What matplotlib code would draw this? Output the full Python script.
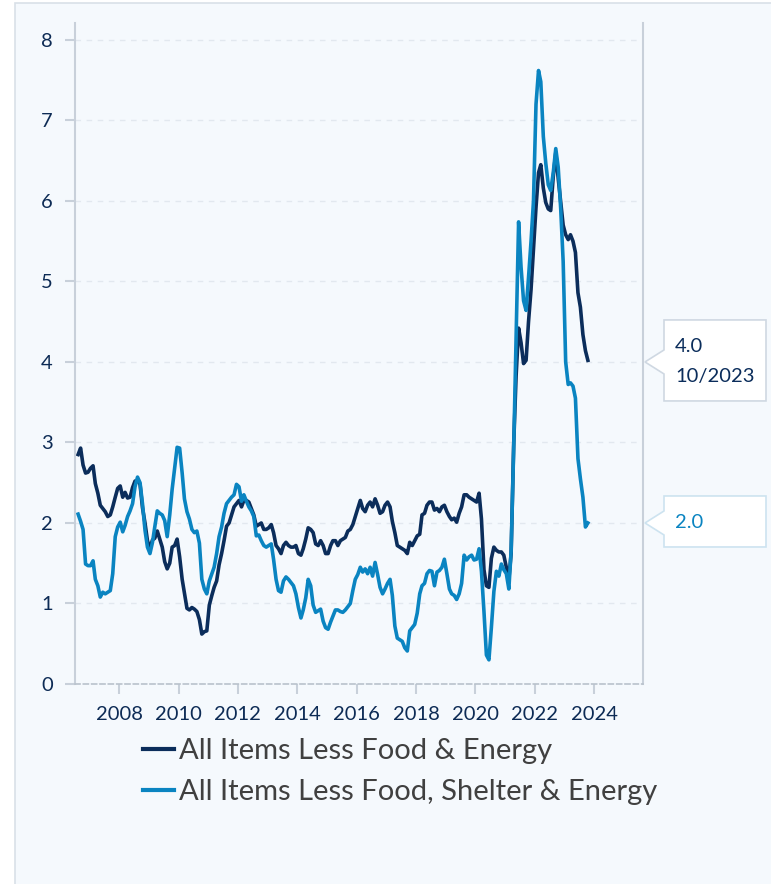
import matplotlib
matplotlib.use("Agg")
import matplotlib.pyplot as plt
import matplotlib.dates as mdates
import matplotlib.transforms as mtransforms
from matplotlib.patches import Polygon, Rectangle
import pandas as pd

plt.rcParams["font.family"] = ["Lato", "DejaVu Sans"]

# monthly observations, Aug 2006 .. Oct 2023 (year-over-year % change)
months = pd.date_range("2006-08-01", "2023-10-01", freq="MS") + pd.Timedelta(days=14)

core = [
    2.85, 2.93, 2.72, 2.62, 2.63,                                            # 2006
    2.68, 2.71, 2.49, 2.37, 2.22, 2.18, 2.14, 2.08, 2.10, 2.20, 2.32, 2.43,  # 2007
    2.46, 2.32, 2.38, 2.31, 2.32, 2.44, 2.52, 2.53, 2.48, 2.19, 2.00, 1.78,  # 2008
    1.68, 1.79, 1.81, 1.90, 1.80, 1.70, 1.52, 1.43, 1.50, 1.70, 1.72, 1.80,  # 2009
    1.58, 1.30, 1.13, 0.94, 0.92, 0.95, 0.93, 0.90, 0.80, 0.62, 0.65, 0.66,  # 2010
    0.98, 1.10, 1.20, 1.28, 1.48, 1.62, 1.78, 1.96, 2.00, 2.10, 2.20, 2.24,  # 2011
    2.28, 2.20, 2.28, 2.28, 2.26, 2.18, 2.10, 1.96, 1.98, 2.00, 1.92, 1.92,  # 2012
    1.94, 1.98, 1.88, 1.72, 1.68, 1.62, 1.72, 1.76, 1.72, 1.70, 1.70, 1.72,  # 2013
    1.62, 1.60, 1.68, 1.80, 1.94, 1.92, 1.88, 1.74, 1.72, 1.78, 1.72, 1.62,  # 2014
    1.62, 1.72, 1.78, 1.78, 1.72, 1.78, 1.80, 1.82, 1.90, 1.92, 1.98, 2.08,  # 2015
    2.18, 2.28, 2.18, 2.14, 2.22, 2.26, 2.20, 2.30, 2.22, 2.12, 2.14, 2.22,  # 2016
    2.26, 2.20, 2.02, 1.88, 1.72, 1.70, 1.68, 1.66, 1.62, 1.76, 1.72, 1.78,  # 2017
    1.84, 1.86, 2.10, 2.12, 2.22, 2.26, 2.26, 2.16, 2.18, 2.14, 2.20, 2.22,  # 2018
    2.14, 2.08, 2.04, 2.06, 2.01, 2.12, 2.20, 2.35, 2.35, 2.32, 2.30, 2.28,  # 2019
    2.26, 2.37, 2.05, 1.42, 1.22, 1.20, 1.56, 1.70, 1.66, 1.64, 1.64, 1.60,  # 2020
    1.45, 1.30, 1.62, 2.96, 3.82, 4.42, 4.24, 3.98, 4.02, 4.50, 4.90, 5.40,  # 2021
    5.92, 6.35, 6.45, 6.16, 5.98, 5.90, 5.88, 6.30, 6.60, 6.28, 5.98, 5.70,  # 2022
    5.58, 5.52, 5.58, 5.50, 5.36, 4.86, 4.68, 4.34, 4.14, 4.02,              # 2023
]

core_ex_shelter = [
    2.11, 2.02, 1.92, 1.49, 1.47,                                            # 2006
    1.47, 1.53, 1.30, 1.22, 1.08, 1.14, 1.12, 1.14, 1.16, 1.37, 1.83, 1.95,  # 2007
    2.01, 1.89, 1.97, 2.08, 2.15, 2.24, 2.45, 2.57, 2.50, 2.24, 1.91, 1.70,  # 2008
    1.62, 1.76, 1.95, 2.15, 2.12, 2.10, 2.03, 1.83, 2.10, 2.42, 2.68, 2.94,  # 2009
    2.93, 2.62, 2.30, 2.14, 2.05, 1.92, 1.88, 1.90, 1.75, 1.30, 1.18, 1.12,  # 2010
    1.28, 1.37, 1.45, 1.62, 1.83, 1.95, 2.12, 2.24, 2.28, 2.32, 2.35, 2.48,  # 2011
    2.45, 2.27, 2.35, 2.27, 2.20, 2.15, 2.08, 1.84, 1.85, 1.78, 1.72, 1.70,  # 2012
    1.72, 1.74, 1.55, 1.30, 1.16, 1.14, 1.28, 1.33, 1.30, 1.26, 1.22, 1.12,  # 2013
    0.95, 0.82, 0.92, 1.07, 1.30, 1.22, 0.98, 0.89, 0.91, 0.93, 0.78, 0.70,  # 2014
    0.68, 0.77, 0.84, 0.92, 0.92, 0.90, 0.89, 0.92, 0.96, 1.00, 1.16, 1.30,  # 2015
    1.36, 1.45, 1.39, 1.43, 1.37, 1.45, 1.34, 1.51, 1.36, 1.20, 1.12, 1.18,  # 2016
    1.25, 1.30, 1.10, 0.72, 0.57, 0.55, 0.53, 0.45, 0.41, 0.66, 0.70, 0.74,  # 2017
    0.88, 1.12, 1.22, 1.25, 1.37, 1.41, 1.40, 1.22, 1.39, 1.41, 1.45, 1.55,  # 2018
    1.37, 1.18, 1.12, 1.10, 1.05, 1.12, 1.25, 1.60, 1.54, 1.58, 1.60, 1.54,  # 2019
    1.55, 1.68, 1.40, 0.90, 0.36, 0.30, 0.70, 1.15, 1.40, 1.34, 1.49, 1.42,  # 2020
    1.37, 1.18, 1.65, 2.90, 4.30, 5.74, 5.18, 4.76, 4.64, 5.05, 5.50, 6.00,  # 2021
    7.20, 7.62, 7.48, 6.80, 6.47, 6.20, 6.13, 6.35, 6.65, 6.42, 5.90, 5.25,  # 2022
    4.00, 3.72, 3.74, 3.70, 3.55, 2.80, 2.55, 2.32, 1.95, 2.00,              # 2023
]

labels = ["All Items Less Food & Energy", "All Items Less Food, Shelter & Energy"]
colors = ["#0b2d5b", "#0a84c1"]
y_ticks = [0, 1, 2, 3, 4, 5, 6, 7, 8]

W, H = 771, 884
fig = plt.figure(figsize=(W / 100, H / 100), dpi=100, facecolor="white")
fig.add_artist(Rectangle((15 / W, -0.1), 1.2, 1.1 - 3 / H, transform=fig.transFigure,
                         facecolor="#f5f9fd", edgecolor="#d9e0e8", lw=1.2, zorder=0))

ax = fig.add_axes([75 / W, 1 - 684 / H, (643 - 75) / W, (684 - 23) / H])
ax.set_facecolor("none")

ax.plot(months, core, color=colors[0], lw=2.6, label=labels[0], solid_joinstyle="round")
ax.plot(months, core_ex_shelter, color=colors[1], lw=2.6, label=labels[1], solid_joinstyle="round")

ax.set_xlim(pd.Timestamp("2006-07-08"), pd.Timestamp("2025-08-23"))
ax.set_ylim(0, 8.21)
ax.set_yticks(y_ticks)
ax.xaxis.set_major_locator(mdates.YearLocator(2))
ax.xaxis.set_major_formatter(mdates.DateFormatter("%Y"))

ax.yaxis.grid(True, linestyle=(0, (4, 4)), color="#e2e8ef", lw=1)
ax.set_axisbelow(True)
ax.spines["top"].set_visible(False)
for side in ["left", "right"]:
    ax.spines[side].set_color("#c8d0da")
    ax.spines[side].set_linewidth(1.5)
ax.spines["bottom"].set_color("#b9c2cc")
ax.spines["bottom"].set_linestyle((0, (3, 2)))
ax.spines["bottom"].set_linewidth(1.2)
ax.tick_params(axis="both", direction="out", length=7, width=1.5, color="#c8d0da",
               labelsize=14.5, labelcolor="#0d2b55")
ax.tick_params(axis="y", pad=9)
ax.tick_params(axis="x", pad=9)

leg = ax.legend(loc="upper left", bbox_to_anchor=(143 / W, 1 - 738 / H),
                bbox_transform=fig.transFigure, frameon=False, fontsize=21,
                labelcolor="#404040", handlelength=1.05, handletextpad=0.18,
                labelspacing=0.52, borderpad=0, borderaxespad=0)
for handle in leg.get_lines():
    handle.set_linewidth(3)

# callout boxes at the right edge for the latest values
ident = mtransforms.IdentityTransform()
last = months[-1]
callouts = [
    (round(core[-1], 1), colors[0], "#cfd8e2", 42, 39, [f"{core[-1]:.1f}", last.strftime("%m/%Y")]),
    (round(core_ex_shelter[-1], 1), colors[1], "#cde3f0", 27, 24, [f"{core_ex_shelter[-1]:.1f}"]),
]
tx = ax.transAxes.transform((1, 0))[0] + 2
for value, tcolor, ecolor, up, down, lines in callouts:
    ty = ax.transData.transform((0, value))[1]
    verts = [(tx, ty), (tx + 19, ty + 12), (tx + 19, ty + up), (tx + 121, ty + up),
             (tx + 121, ty - down), (tx + 19, ty - down), (tx + 19, ty - 12)]
    fig.add_artist(Polygon(verts, closed=True, transform=ident, facecolor="white",
                           edgecolor=ecolor, lw=1.2, clip_on=False))
    if len(lines) == 2:
        fig.text((tx + 30) / W, (ty + 15) / H, lines[0], color=tcolor, fontsize=14.5, va="center")
        fig.text((tx + 30) / W, (ty - 15) / H, lines[1], color=tcolor, fontsize=14.5, va="center")
    else:
        fig.text((tx + 30) / W, ty / H, lines[0], color=tcolor, fontsize=14.5, va="center")

fig.savefig("out.png", dpi=100, facecolor=fig.get_facecolor())
